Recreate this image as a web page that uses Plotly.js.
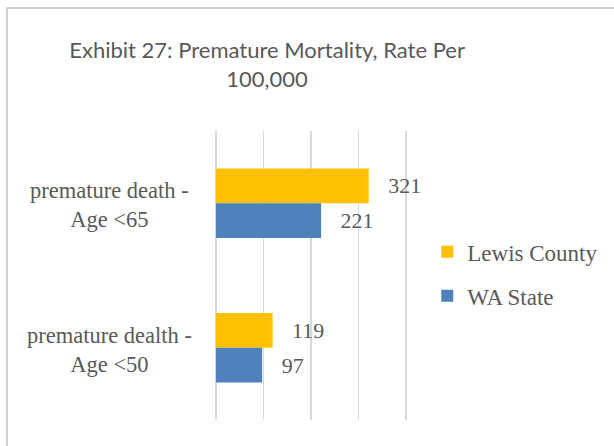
<!DOCTYPE html>
<html>
<head>
<meta charset="utf-8">
<script src="https://cdn.plot.ly/plotly-3.0.1.min.js"></script>
<style>
html,body{margin:0;padding:0;background:#fff;}
#wrap{position:relative;width:614px;height:446px;overflow:hidden;background:#fff;}
#chart{position:absolute;left:0;top:0;width:614px;height:446px;}
.edge{position:absolute;background:#D0D0D0;pointer-events:none;z-index:50;}
#edgeTop{left:6px;top:7px;width:620px;height:2px;}
#edgeLeft{left:6px;top:7px;width:2px;height:460px;}
</style>
</head>
<body>
<div id="wrap">
<div id="chart"></div>
<div class="edge" id="edgeTop"></div>
<div class="edge" id="edgeLeft"></div>
</div>
<script>
// ---- data ----
var categories = ["premature death - Age <65", "premature dealth - Age <50"];
var categoryLabels = ["premature death -<br>Age <65", "premature dealth -<br>Age <50"];
var seriesNames = ["Lewis County", "WA State"];
var lewisCounty = [321, 119];
var waState = [221, 97];
var seriesColors = ["#FFC000", "#4F81BD"];
var chartTitle = "Exhibit 27: Premature Mortality, Rate Per<br>100,000";

var serif = "Liberation Serif, Times New Roman, serif";
var sans = "Lato, Calibri, sans-serif";
var grey = "#595959";

function barTrace(name, vals, color, group) {
  return {
    type: "bar",
    orientation: "h",
    name: name,
    legendgroup: group,
    y: categories,
    x: vals,
    marker: {color: color, line: {width: 0}},
    texttemplate: "\u00a0\u00a0\u00a0%{x}",
    textposition: "outside",
    cliponaxis: false,
    textfont: {family: serif, size: 22, color: grey},
    hoverinfo: "x+name"
  };
}

var data = [
  barTrace(seriesNames[0], lewisCounty, seriesColors[0], "g1"),
  barTrace(seriesNames[1], waState, seriesColors[1], "g2")
];

var annotations = categories.map(function (c, i) {
  return {
    xref: "paper", yref: "y",
    x: -0.547, y: c,
    xanchor: "center", yanchor: "middle",
    yshift: -2,
    text: categoryLabels[i],
    showarrow: false,
    align: "center",
    font: {family: serif, size: 22.5, color: grey}
  };
});

var axisMax = 410;
var plotW = 190 * axisMax / 400;

var layout = {
  width: 614,
  height: 446,
  margin: {l: 216, r: 614 - 216 - plotW, t: 131, b: 26, pad: 0, autoexpand: false},
  paper_bgcolor: "rgba(255,255,255,0)",
  plot_bgcolor: "rgba(255,255,255,0)",
  barmode: "group",
  bargap: 0.52,
  bargroupgap: 0,
  title: {
    text: chartTitle,
    font: {family: sans, size: 22, color: grey},
    xref: "container", yref: "container",
    x: 0.435, xanchor: "center",
    y: 1 - 58 / 446, yanchor: "top"
  },
  xaxis: {
    range: [0, axisMax],
    dtick: 100,
    tick0: 0,
    showgrid: true,
    gridcolor: "#D9D9D9",
    gridwidth: 1.5,
    zeroline: true,
    zerolinecolor: "#D9D9D9",
    zerolinewidth: 1.5,
    showline: false,
    showticklabels: false,
    ticks: "",
    fixedrange: true
  },
  yaxis: {
    type: "category",
    autorange: "reversed",
    showgrid: false,
    zeroline: false,
    showline: false,
    showticklabels: false,
    ticks: "",
    fixedrange: true
  },
  legend: {
    x: (427 - 216) / plotW, xanchor: "left",
    y: 0.656, yanchor: "top",
    font: {family: serif, size: 23, color: grey},
    traceorder: "grouped",
    tracegroupgap: 11,
    itemwidth: 30,
    bgcolor: "rgba(0,0,0,0)"
  },
  showlegend: true,
  annotations: annotations
};

Plotly.newPlot("chart", data, layout, {displayModeBar: false, staticPlot: true});
</script>
</body>
</html>
